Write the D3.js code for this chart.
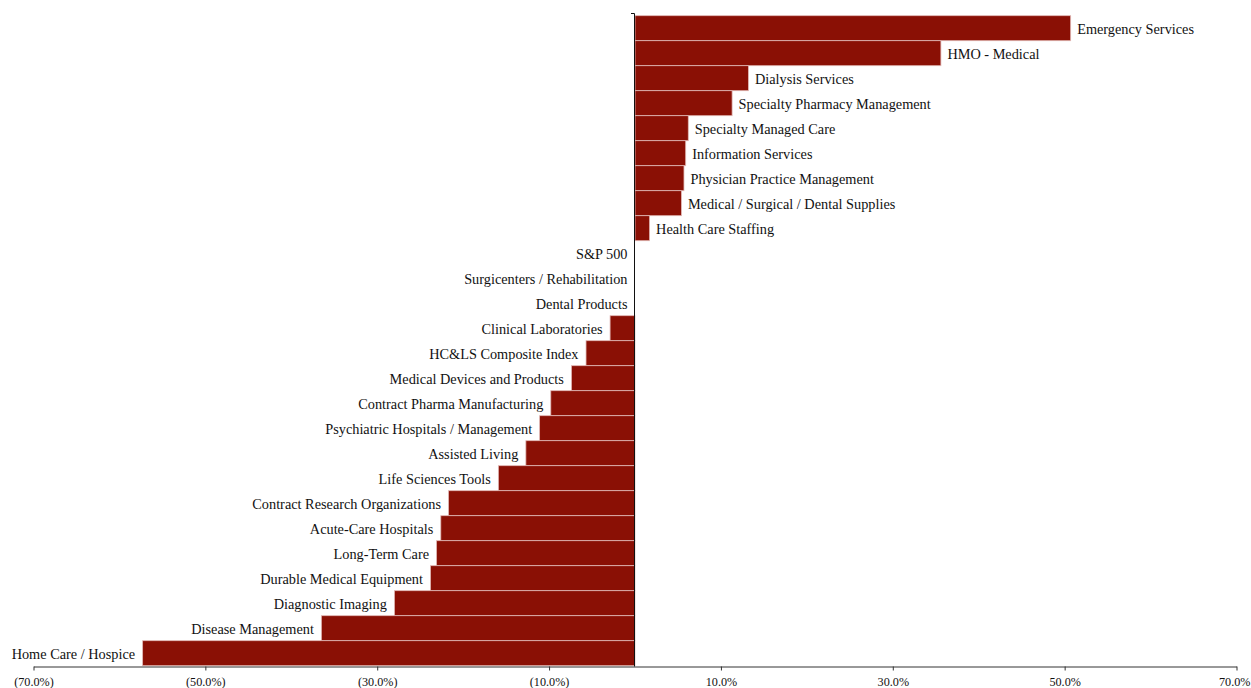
<!DOCTYPE html>
<html><head><meta charset="utf-8">
<script src="https://cdn.jsdelivr.net/npm/d3@7"></script>
<style>
html,body{margin:0;padding:0;background:#fff;}
svg{display:block;}
</style></head>
<body>
<svg id="chart" width="1251" height="688"></svg>
<script>
const categories = [
  "Emergency Services","HMO - Medical","Dialysis Services","Specialty Pharmacy Management",
  "Specialty Managed Care","Information Services","Physician Practice Management",
  "Medical / Surgical / Dental Supplies","Health Care Staffing","S&P 500",
  "Surgicenters / Rehabilitation","Dental Products","Clinical Laboratories",
  "HC&LS Composite Index","Medical Devices and Products","Contract Pharma Manufacturing",
  "Psychiatric Hospitals / Management","Assisted Living","Life Sciences Tools",
  "Contract Research Organizations","Acute-Care Hospitals","Long-Term Care",
  "Durable Medical Equipment","Diagnostic Imaging","Disease Management","Home Care / Hospice"
];
const values = [
  50.7, 35.6, 13.2, 11.3,
  6.2, 5.9, 5.7,
  5.4, 1.7, 0.0,
  0.0, 0.0, -2.9,
  -5.7, -7.4, -9.8,
  -11.1, -12.7, -15.9,
  -21.7, -22.6, -23.1,
  -23.8, -28.0, -36.5, -57.3
];
const tickValues = [-70, -50, -30, -10, 10, 30, 50, 70];
const tickLabels = ["(70.0%)","(50.0%)","(30.0%)","(10.0%)","10.0%","30.0%","50.0%","70.0%"];

const svg = d3.select("#chart");
const x = d3.scaleLinear().domain([-70, 70]).range([33.5, 1236.5]);
const y = d3.scaleBand().domain(categories).range([15.7, 665.7]).padding(0);
const font = "'Liberation Serif','Times New Roman',serif";
const data = categories.map((c, i) => ({c, v: values[i]}));

svg.append("g").selectAll("rect").data(data).join("rect")
  .attr("x", d => Math.min(x(0), x(d.v)))
  .attr("y", d => y(d.c))
  .attr("width", d => Math.abs(x(d.v) - x(0)))
  .attr("height", y.bandwidth())
  .attr("fill", "#8a1005")
  .attr("stroke", "#e2b9b6")
  .attr("stroke-width", 0.8);

svg.append("g").selectAll("text").data(data).join("text")
  .attr("x", d => d.v > 0 ? x(d.v) + 6.5 : x(d.v) - 7.5)
  .attr("y", d => y(d.c) + y.bandwidth() / 2 + 1)
  .attr("dy", "0.35em")
  .attr("text-anchor", d => d.v > 0 ? "start" : "end")
  .attr("font-family", font)
  .attr("font-size", 14.3)
  .attr("fill", "#111")
  .text(d => d.c);

// x axis
const xAxis = d3.axisBottom(x).tickValues(tickValues)
  .tickFormat((d, i) => tickLabels[i]).tickSize(4).tickSizeOuter(0);
const gx = svg.append("g").attr("transform", "translate(0,666.5)").call(xAxis);
gx.select(".domain").attr("stroke", "#333");
gx.selectAll(".tick line").attr("stroke", "#333");
gx.selectAll(".tick text").attr("font-family", font).attr("font-size", 12.2)
  .attr("fill", "#111").attr("dy", "1.05em");
// keep the last label inside the window
gx.selectAll(".tick text").filter(d => d === 70)
  .attr("text-anchor", "end").attr("x", 1250 - x(70));

// vertical axis at zero
svg.append("line").attr("x1", x(0) - 0.5).attr("x2", x(0) - 0.5)
  .attr("y1", 13.5).attr("y2", 666.5).attr("stroke", "#111").attr("stroke-width", 1);
svg.append("line").attr("x1", x(0) - 4).attr("x2", x(0) - 0.5)
  .attr("y1", 13.5).attr("y2", 13.5).attr("stroke", "#111").attr("stroke-width", 1);
</script>
</body></html>
